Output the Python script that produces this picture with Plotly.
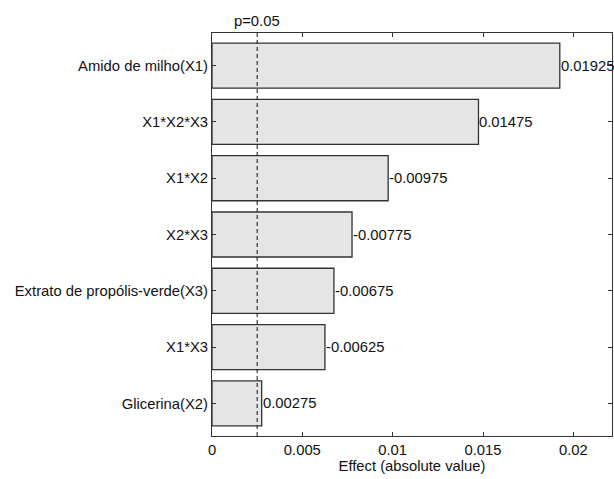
import plotly.graph_objects as go

factors = ["Amido de milho(X1)", "X1*X2*X3", "X1*X2", "X2*X3",
           "Extrato de propólis-verde(X3)", "X1*X3", "Glicerina(X2)"]
effects = [0.01925, 0.01475, -0.00975, -0.00775, -0.00675, -0.00625, 0.00275]
p_threshold = 0.0025
x_ticks = [0, 0.005, 0.01, 0.015, 0.02]
x_tick_labels = ["0", "0.005", "0.01", "0.015", "0.02"]

abs_effects = [abs(v) for v in effects]
FONT = "Liberation Sans, Arial, sans-serif"
FS = 14.8

fig = go.Figure()
fig.add_trace(go.Bar(
    x=abs_effects, y=factors, orientation="h", width=0.8,
    marker=dict(color="#e5e5e5", line=dict(color="#333333", width=1.3)),
    hoverinfo="skip", showlegend=False,
))

for f, v, a in zip(factors, effects, abs_effects):
    fig.add_annotation(x=a, y=f, text=f"{v:.5f}", showarrow=False,
                       xanchor="left", yanchor="middle", xshift=-1,
                       font=dict(family=FONT, size=FS, color="#111111"))

fig.add_shape(type="line", xref="x", yref="paper", x0=p_threshold, x1=p_threshold,
              y0=0, y1=1, line=dict(color="#111111", width=1, dash="4px,3px"))
fig.add_annotation(x=p_threshold, xref="x", y=1, yref="paper", yshift=2,
                   text="p=0.05", showarrow=False, xanchor="center", yanchor="bottom",
                   font=dict(family=FONT, size=FS, color="#111111"))

fig.update_layout(
    width=614, height=479,
    margin=dict(l=212, r=2, t=33, b=43),
    paper_bgcolor="white", plot_bgcolor="white",
    font=dict(family=FONT, size=FS, color="#111111"),
    bargap=0.2,
)
fig.update_xaxes(
    range=[0, 0.02214], tickvals=x_ticks, ticktext=x_tick_labels,
    ticks="inside", ticklen=4, tickcolor="#333333",
    showline=True, linecolor="#333333", linewidth=1, mirror="ticks",
    showgrid=False, zeroline=False,
    title=dict(text="Effect (absolute value)", standoff=3,
               font=dict(family=FONT, size=FS, color="#111111")),
    tickfont=dict(family=FONT, size=FS, color="#111111"),
)
fig.update_yaxes(
    type="category", categoryorder="array", categoryarray=factors,
    range=[6.58, -0.58],
    ticks="inside", ticklen=4, tickcolor="#333333",
    showline=True, linecolor="#333333", linewidth=1, mirror="ticks",
    showgrid=False, zeroline=False,
    tickfont=dict(family=FONT, size=FS, color="#111111"),
)

fig.write_html("out.html", config={"displayModeBar": False},
               post_script="document.body.style.margin='0';")
